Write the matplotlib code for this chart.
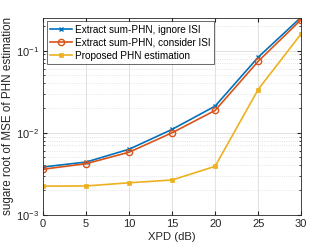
import numpy as np
from matplotlib import pyplot as plt

plt.rcParams['font.family'] = ['Liberation Sans', 'DejaVu Sans']

# XPD values (dB)
xpd = [0, 5, 10, 15, 20, 25, 30]

# square root of MSE for each method
ignore_isi = [0.00383, 0.0044, 0.0063, 0.011, 0.0211, 0.083, 0.255]
consider_isi = [0.0036, 0.0042, 0.0058, 0.0100, 0.0187, 0.074, 0.238]
proposed = [0.00224, 0.00225, 0.00246, 0.00266, 0.0039, 0.0336, 0.16]

labels = ["Extract sum-PHN, ignore ISI",
          "Extract sum-PHN, consider ISI",
          "Proposed PHN estimation"]

fig = plt.figure(figsize=(3.32, 2.49), dpi=100)
ax = fig.add_axes([0.13, 0.137, 0.777, 0.791])

ax.semilogy(xpd, ignore_isi, '-x', color='#0072BD', lw=1.2, ms=3.5, mew=1.0, label=labels[0])
ax.semilogy(xpd, consider_isi, '-o', color='#D95319', lw=1.2, ms=4.5, mfc='none', mew=1.0, label=labels[1])
ax.semilogy(xpd, proposed, '-s', color='#EDB120', lw=1.2, ms=3, mew=0.5, label=labels[2])

ax.set_xlim(0, 30)
ax.set_ylim(1e-3, 0.25)
ax.set_xticks(xpd)
ax.grid(True, which='major', color='#dcdcdc', lw=0.6)
ax.grid(True, which='minor', color='#dcdcdc', lw=0.6, ls=':')
ax.tick_params(which='both', direction='in', top=True, right=True, labelsize=8, colors='#262626')
ax.tick_params(which='major', length=3, pad=3)
ax.tick_params(which='minor', length=1.5)
for s in ax.spines.values():
    s.set_color('#262626')
    s.set_linewidth(0.6)

ax.set_xlabel("XPD (dB)", fontsize=8.1, color='#262626', labelpad=2)
ax.set_ylabel("sugare root of MSE of PHN estimation", fontsize=8.4, color='#262626', labelpad=1.5)

leg = ax.legend(loc='upper left', fontsize=7.2, frameon=True, fancybox=False,
                edgecolor='#262626', borderpad=0.35, labelspacing=0.3,
                handlelength=2.2, handletextpad=0.3, borderaxespad=0.35)
leg.get_frame().set_linewidth(0.6)

fig.savefig("out.png", dpi=100)
